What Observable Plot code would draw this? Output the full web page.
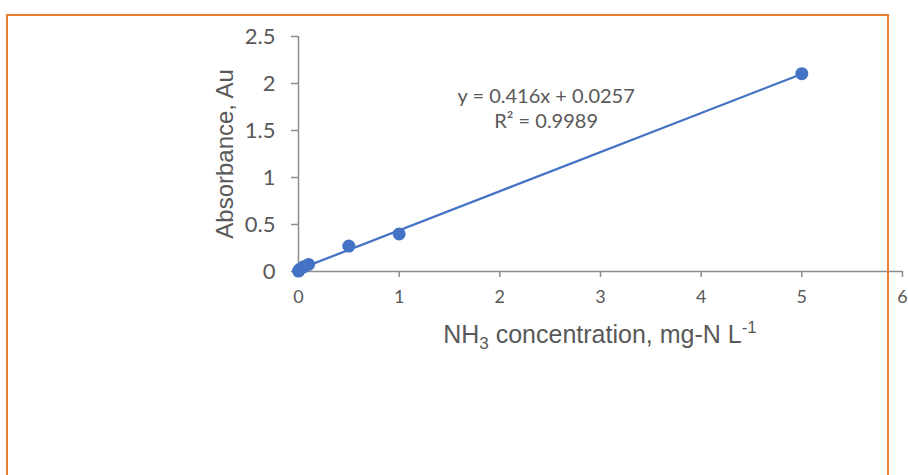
<!DOCTYPE html>
<html>
<head>
<meta charset="utf-8">
<script src="https://cdn.jsdelivr.net/npm/d3@7"></script>
<script src="https://cdn.jsdelivr.net/npm/@observablehq/plot@0.6"></script>
<style>
  html, body { margin: 0; padding: 0; background: #fff; }
  #wrap { position: relative; width: 908px; height: 475px; overflow: hidden; }
  #border { position: absolute; left: 6px; top: 14px; width: 879px; height: 480px;
            border: 2px solid #ED7D31; pointer-events: none; box-sizing: content-box; }
  svg { display: block; }
</style>
</head>
<body>
<div id="wrap"><div id="chart"></div><div id="border"></div></div>
<script>
// Data
const concentration = [0, 0.01, 0.05, 0.1, 0.5, 1, 5];          // NH3, mg-N L-1
const absorbance    = [0.005, 0.02, 0.05, 0.075, 0.27, 0.40, 2.105]; // Au
const xTicks = [0, 1, 2, 3, 4, 5, 6];
const yTicks = [0, 0.5, 1, 1.5, 2, 2.5];
const equationLines = ["y = 0.416x + 0.0257", "R² = 0.9989"];
const yTitle = "Absorbance, Au";

const data = concentration.map((c, i) => ({x: c, y: absorbance[i]}));

const blue = "#4472C4";
const axisGray = "#8C8C8C";
const labelGray = "#595959";

const chart = Plot.plot({
  width: 908,
  height: 475,
  marginLeft: 298,
  marginRight: 6,
  marginTop: 36,
  marginBottom: 204,
  style: {fontFamily: "Lato, 'Open Sans', sans-serif", color: labelGray, background: "transparent"},
  x: {domain: [0, 6]},
  y: {domain: [0, 2.5]},
  marks: [
    Plot.ruleY([0], {stroke: axisGray, strokeWidth: 1.5}),
    Plot.ruleX([0], {stroke: axisGray, strokeWidth: 1.5}),
    Plot.axisX({ticks: xTicks, tickFormat: d => String(d), tickSize: 6, tickPadding: 13,
                stroke: axisGray, strokeWidth: 1.5, fill: labelGray, fontSize: 18, label: null}),
    Plot.axisY({ticks: yTicks, tickFormat: d => String(d), tickSize: 7, tickPadding: 16,
                stroke: axisGray, strokeWidth: 1.5, fill: labelGray, fontSize: 22, label: null}),
    Plot.linearRegressionY(data, {x: "x", y: "y", ci: 0, stroke: blue, strokeWidth: 2.25}),
    Plot.dot(data, {x: "x", y: "y", r: 6.5, fill: blue, stroke: "none"}),
    Plot.text([equationLines.join("\n")], {
      x: 2.46, y: 1.745, text: d => d, fontSize: 20, fill: labelGray,
      lineHeight: 1.25, lineAnchor: "middle", textAnchor: "middle"
    }),
    Plot.text([yTitle], {
      frameAnchor: "left", dx: -73, rotate: -90, text: d => d, textAnchor: "middle",
      fontSize: 24, fill: labelGray, fontFamily: "'Liberation Sans', Arial, sans-serif"
    })
  ]
});

document.getElementById("chart").appendChild(chart);

// X axis title with subscript / superscript
const sx = chart.scale("x");
const svg = d3.select(chart);
const t = svg.append("text")
  .attr("x", sx.apply(3))
  .attr("y", 343)
  .attr("text-anchor", "middle")
  .attr("fill", labelGray)
  .attr("font-family", "'Liberation Sans', Arial, sans-serif")
  .attr("font-size", 25);
t.append("tspan").text("NH");
t.append("tspan").attr("font-size", 17).attr("dy", 6).text("3");
t.append("tspan").attr("dy", -6).text(" concentration, mg-N L");
t.append("tspan").attr("font-size", 17).attr("dy", -10).text("-1");
</script>
</body>
</html>
